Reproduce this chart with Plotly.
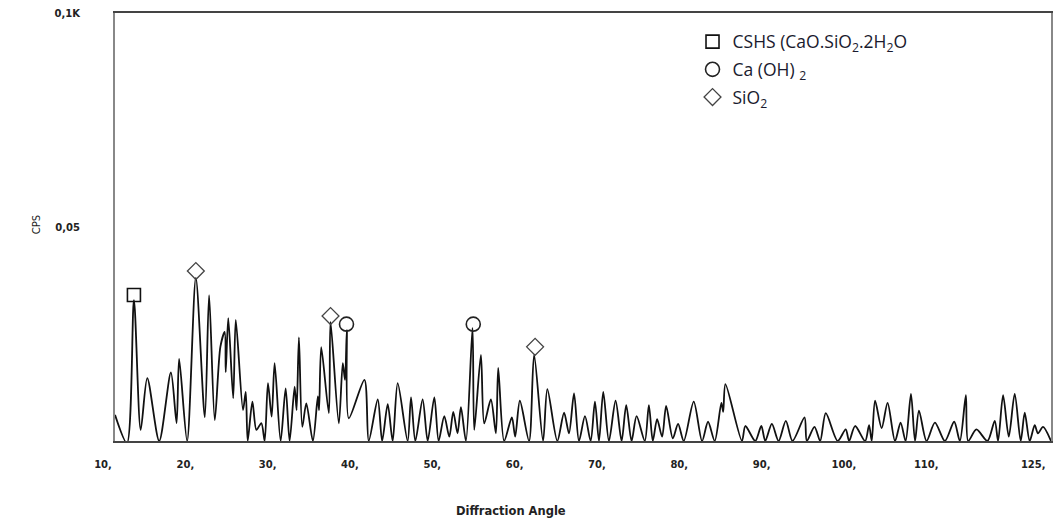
import plotly.graph_objects as go

# Diffraction pattern (angle, CPS in thousands -> axis 0..0.1K)
angle = [10.00, 11.45, 12.30, 13.12, 13.92, 15.37, 16.79, 17.48, 17.79, 18.76,
         19.82, 20.91, 21.43, 22.12, 22.80, 23.33, 23.45, 23.76, 24.36, 24.67,
         25.55, 25.88, 26.12, 26.69, 27.18, 27.78, 28.18, 28.58, 29.03, 29.39,
         30.12, 30.73, 31.21, 31.82, 32.06, 32.34, 32.75, 33.24, 34.04, 34.64,
         34.79, 35.05, 35.98, 36.18, 37.19, 37.67, 37.94, 38.16, 38.40, 40.30,
         40.82, 41.92, 42.45, 43.13, 43.73, 44.34, 45.55, 45.96, 46.48, 47.37,
         47.98, 48.79, 49.31, 50.00, 50.61, 51.09, 51.61, 52.02, 52.63, 53.43,
         53.64, 54.45, 54.85, 55.66, 56.27, 56.55, 57.27, 58.21, 58.61, 59.18,
         60.30, 60.91, 62.00, 62.52, 63.73, 64.55, 65.15, 65.76, 66.36, 67.09,
         67.78, 68.30, 68.79, 69.31, 70.00, 70.81, 71.54, 72.10, 72.75, 73.36,
         74.36, 74.85, 75.33, 75.85, 76.46, 76.95, 77.76, 78.40, 79.09, 80.30,
         81.31, 82.04, 82.85, 83.66, 83.88, 84.15, 86.16, 86.57, 87.78, 88.51,
         88.99, 89.79, 90.61, 91.49, 92.30, 93.76, 94.04, 94.97, 95.66, 96.34,
         97.79, 98.76, 99.18, 99.90, 101.12, 101.60, 101.92, 102.33, 103.13, 103.85,
         104.75, 105.43, 106.04, 106.69, 107.18, 107.66, 108.58, 109.60, 110.81, 111.94,
         112.63, 113.36, 113.64, 114.64, 115.98, 116.87, 117.27, 117.88, 118.57, 119.29,
         120.02, 120.51, 121.11, 121.72, 122.12, 122.73, 123.70]
cps = [0.0061, -0.0005, 0.0329, 0.0026, 0.0147, 0.0000, 0.0160, 0.0042, 0.0192, 0.0000,
       0.0381, 0.0056, 0.0341, 0.0049, 0.0220, 0.0255, 0.0161, 0.0287, 0.0100, 0.0283,
       0.0072, 0.0115, 0.0000, 0.0092, 0.0026, 0.0042, 0.0000, 0.0135, 0.0057, 0.0182,
       0.0000, 0.0123, 0.0000, 0.0127, 0.0072, 0.0242, 0.0033, 0.0088, 0.0000, 0.0104,
       0.0072, 0.0219, 0.0065, 0.0278, 0.0041, 0.0182, 0.0143, 0.0259, 0.0053, 0.0143,
       0.0000, 0.0097, 0.0000, 0.0086, 0.0000, 0.0135, 0.0000, 0.0102, 0.0000, 0.0097,
       0.0000, 0.0102, 0.0000, 0.0058, 0.0010, 0.0068, 0.0018, 0.0079, 0.0000, 0.0264,
       0.0026, 0.0201, 0.0041, 0.0097, 0.0018, 0.0171, 0.0000, 0.0055, 0.0010, 0.0094,
       0.0000, 0.0201, 0.0000, 0.0121, 0.0000, 0.0066, 0.0018, 0.0111, 0.0000, 0.0058,
       0.0000, 0.0092, 0.0000, 0.0115, 0.0000, 0.0094, 0.0000, 0.0084, 0.0000, 0.0058,
       0.0000, 0.0084, 0.0000, 0.0051, 0.0010, 0.0082, 0.0006, 0.0040, 0.0000, 0.0092,
       0.0000, 0.0045, 0.0000, 0.0089, 0.0068, 0.0133, 0.0000, 0.0035, 0.0000, 0.0035,
       0.0000, 0.0040, 0.0000, 0.0047, 0.0000, 0.0055, 0.0000, 0.0033, 0.0000, 0.0065,
       0.0000, 0.0027, 0.0000, 0.0035, 0.0000, 0.0037, 0.0000, 0.0094, 0.0030, 0.0089,
       0.0000, 0.0043, 0.0000, 0.0110, 0.0000, 0.0071, 0.0000, 0.0043, 0.0000, 0.0045,
       0.0000, 0.0107, 0.0000, 0.0027, 0.0000, 0.0047, 0.0000, 0.0107, 0.0010, 0.0110,
       0.0000, 0.0066, 0.0000, 0.0037, 0.0018, 0.0033, 0.0000]

# Phase markers
cshs_x = [12.30]
cshs_y = [0.0341]
caoh_x = [38.12, 53.52]
caoh_y = [0.0273, 0.0273]
sio2_x = [19.82, 36.18, 61.03]
sio2_y = [0.0397, 0.0292, 0.0220]

tick_vals = [10, 20, 30, 40, 50, 60, 70, 80, 90, 100, 110, 123]
tick_text = ["10,", "20,", "30,", "40,", "50,", "60,", "70,", "80,", "90,", "100,", "110,", "125,"]
ytick_vals = [0.05, 0.1]
ytick_text = ["0,05", "0,1K"]

fig = go.Figure()
fig.add_trace(go.Scatter(x=angle, y=cps, mode="lines",
                         line=dict(color="#111111", width=1.8, shape="spline", smoothing=0.8),
                         showlegend=False, hoverinfo="skip"))
fig.add_trace(go.Scatter(x=cshs_x, y=cshs_y, mode="markers", name="CSHS (CaO.SiO<sub>2</sub>.2H<sub>2</sub>O",
                         legendgroup="a",
                         marker=dict(symbol="square-open", size=13, color="#111111", line=dict(width=1.6))))
fig.add_trace(go.Scatter(x=caoh_x, y=caoh_y, mode="markers", name="Ca (OH) <sub>2</sub>",
                         legendgroup="b",
                         marker=dict(symbol="circle-open", size=14, color="#222222", line=dict(width=1.6))))
fig.add_trace(go.Scatter(x=sio2_x, y=sio2_y, mode="markers", name="SiO<sub>2</sub>",
                         legendgroup="c",
                         marker=dict(symbol="diamond-open", size=13, color="#444444", line=dict(width=1.3))))

fig.update_layout(
    width=1056, height=521,
    margin=dict(l=115, r=3, t=13, b=80),
    paper_bgcolor="white", plot_bgcolor="white",
    font=dict(family="DejaVu Sans", color="#222222"),
    legend=dict(x=0.617, y=0.975, xanchor="left", yanchor="top",
                font=dict(family="Open Sans", size=17.5, color="#1a1a2e"),
                tracegroupgap=2, bgcolor="rgba(0,0,0,0)"),
    xaxis=dict(range=[10, 123.7], tickvals=tick_vals, ticktext=tick_text,
               showgrid=False, zeroline=False, showline=True, mirror=True,
               linecolor="#444444", linewidth=2, ticks="",
               tickfont=dict(family="DejaVu Sans", size=10, color="#222222", weight="bold"),
               ticklabelshift=-12, ticklabelstandoff=13),
    yaxis=dict(range=[0, 0.1], tickvals=ytick_vals, ticktext=ytick_text,
               showgrid=False, zeroline=False, showline=True, mirror=True,
               linecolor="#888888", linewidth=2, ticks="",
               tickfont=dict(family="DejaVu Sans", size=10, color="#222222", weight="bold"),
               ticklabelstandoff=31),
    annotations=[
        dict(text="Diffraction Angle", xref="paper", yref="paper", x=0.423, y=-0.163,
             xanchor="center", yanchor="middle", showarrow=False,
             font=dict(family="DejaVu Sans", size=11.5, color="#222222", weight="bold")),
        dict(text="CPS", xref="paper", yref="paper", x=-0.083, y=0.505, textangle=-90,
             xanchor="center", yanchor="middle", showarrow=False,
             font=dict(family="DejaVu Sans", size=10, color="#222222")),
    ],
)

fig.write_html("out.html", config={"displayModeBar": False},
               post_script="document.body.style.margin='0px';")
